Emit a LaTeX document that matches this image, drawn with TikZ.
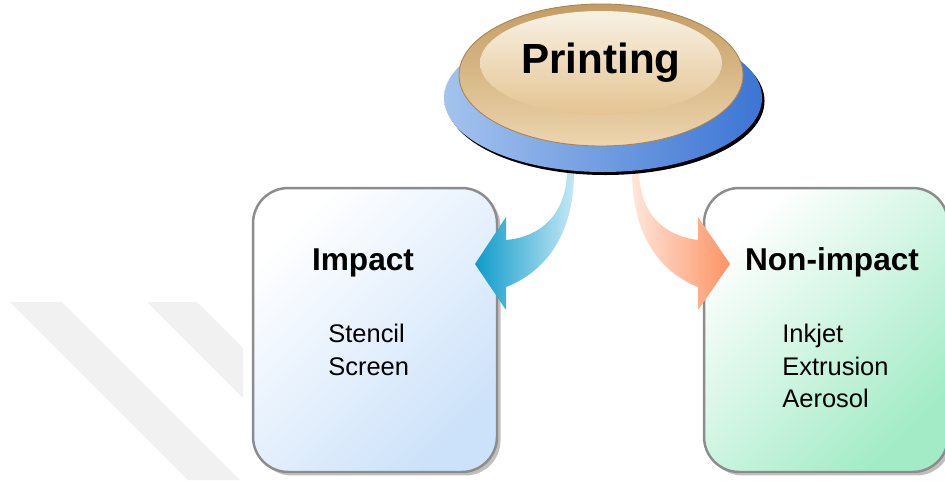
\documentclass[tikz,border=0pt]{standalone}
\usepackage{fontspec}
\setmainfont{Liberation Sans}
\usetikzlibrary{shapes.geometric,shadows}
\definecolor{impactblue}{HTML}{CCE2FA}
\definecolor{nonimpactgreen}{HTML}{A2EBC6}
\definecolor{arrowblue}{HTML}{0E9BCB}
\definecolor{arrowbluelight}{HTML}{C4E8F4}
\definecolor{arroworange}{HTML}{FD9364}
\definecolor{arroworangelight}{HTML}{FFE6DA}
\definecolor{basedark}{HTML}{3C75D4}
\definecolor{baselight}{HTML}{A4C3EE}
\definecolor{tandark}{HTML}{C49C62}
\definecolor{tanlight}{HTML}{EDD5AD}
\definecolor{creamlight}{HTML}{F8F1E4}
\definecolor{creamdark}{HTML}{E4C491}
\definecolor{boxline}{HTML}{8C8C8C}

\begin{document}
\begin{tikzpicture}[x=0.02cm, y=-0.02cm,
    box/.style={rounded corners=20pt, draw=boxline, line width=1.4pt,
      minimum width=4.88cm, minimum height=5.68cm,
      drop shadow={shadow xshift=2pt, shadow yshift=-2pt, fill=black!25, opacity=1}},
    title/.style={anchor=base, font=\bfseries\fontsize{18}{22}\selectfont},
    items/.style={anchor=north west, inner sep=0pt, align=left,
      font=\fontsize{14.5}{18.5}\selectfont}]
  \useasboundingbox (0,0) rectangle (945,480);
  \fill[gray!11] (10,302) -- (62,302) -- (240,480) -- (188,480) -- cycle;
  \fill[gray!11] (147,302) -- (197,302) -- (243,348) -- (243,398) -- cycle;

  \node[box, top color=white, bottom color=impactblue, shading angle=45] (impact) at (375,330) {};
  \node[box, top color=white, bottom color=nonimpactgreen, shading angle=45] (nonimpact) at (826,330) {};
  \node[title] (impacttitle) at (363,270) {Impact};
  \node[title] (nonimpacttitle) at (832,270) {Non-impact};
  \node[items] (impactitems) at (328,324) {Stencil\\Screen};
  \node[items] (nonimpactitems) at (782,324) {Inkjet\\Extrusion\\Aerosol};

  \coordinate (impacttip) at (475,264);
  \coordinate (nonimpacttip) at (730,264);
  \shade[left color=arrowblue, right color=arrowbluelight]
    (567,172) .. controls (566,215) and (540,237) .. (506,240) -- (506,217)
    -- (impacttip) -- (506,310) -- (506,287)
    .. controls (545,272) and (574,235) .. (574,172) -- cycle;
  \shade[left color=arroworangelight, right color=arroworange]
    (632,172) .. controls (632,235) and (660,272) .. (698,287) -- (698,310)
    -- (nonimpacttip) -- (698,217) -- (698,240)
    .. controls (665,236) and (640,215) .. (639,172) -- cycle;

  \fill[black] (605.5,101) ellipse [x radius=159, y radius=74];
  \shade[left color=baselight, right color=basedark] (603,98) ellipse [x radius=159, y radius=74];
  \shade[top color=tandark, bottom color=tanlight, draw=tandark!85!black, line width=0.5pt]
    (601,75) ellipse [x radius=142, y radius=71];
  \node[ellipse, minimum width=4.84cm, minimum height=2.08cm, top color=creamlight,
    bottom color=creamdark, font=\bfseries\fontsize{24}{28}\selectfont] (printing) at (601,63) {Printing};
\end{tikzpicture}
\end{document}
